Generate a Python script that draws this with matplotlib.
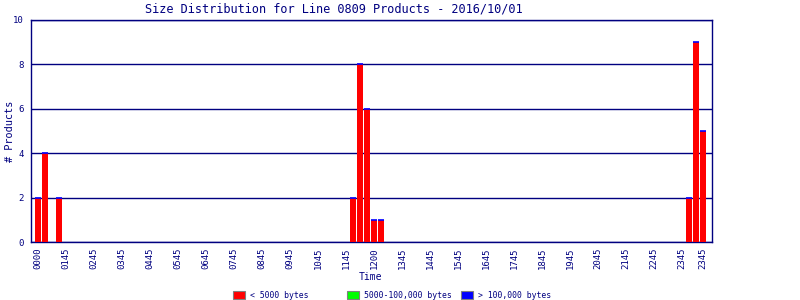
import matplotlib
matplotlib.use("Agg")
import matplotlib.pyplot as plt
from matplotlib.patches import Rectangle

NAVY = "#000080"
plt.rcParams['font.family'] = ['DejaVu Sans Mono', 'DejaVu Sans']

title = "Size Distribution for Line 0809 Products - 2016/10/01"

# 96 fifteen-minute bins, 00:00 .. 23:45
small_counts = [
    2, 4, 0, 2, 0, 0, 0, 0, 0, 0, 0, 0,
    0, 0, 0, 0, 0, 0, 0, 0, 0, 0, 0, 0,
    0, 0, 0, 0, 0, 0, 0, 0, 0, 0, 0, 0,
    0, 0, 0, 0, 0, 0, 0, 0, 0, 2, 8, 6,
    1, 1, 0, 0, 0, 0, 0, 0, 0, 0, 0, 0,
    0, 0, 0, 0, 0, 0, 0, 0, 0, 0, 0, 0,
    0, 0, 0, 0, 0, 0, 0, 0, 0, 0, 0, 0,
    0, 0, 0, 0, 0, 0, 0, 0, 0, 2, 9, 5,
]
tick_bins = [0, 4, 8, 12, 16, 20, 24, 28, 32, 36, 40, 44, 48, 52, 56, 60,
             64, 68, 72, 76, 80, 84, 88, 92, 95]
tick_labels = ["0000", "0145", "0245", "0345", "0445", "0545", "0645", "0745",
               "0845", "0945", "1045", "1145", "1200", "1345", "1445", "1545",
               "1645", "1745", "1845", "1945", "2045", "2145", "2245", "2345", "2345"]
legend_labels = ["< 5000 bytes", "5000-100,000 bytes", "> 100,000 bytes"]
legend_colors = ["#ff0000", "#00ff00", "#0000ff"]

W, H = 800, 300
fig = plt.figure(figsize=(8, 3), dpi=100)
ax = fig.add_axes([31/W, 1-242/H, (712-31)/W, (242-20)/H])

x = list(range(len(small_counts)))
ax.bar(x, small_counts, width=0.86, color="#ff0000", zorder=3, linewidth=0)
nz = [i for i in x if small_counts[i] > 0]
ax.hlines([small_counts[i] for i in nz], [i - 0.43 for i in nz], [i + 0.43 for i in nz],
          colors="#0000ff", linewidth=1.2, zorder=4)

ax.set_xlim(-1, 96.3)
ax.set_ylim(0, 10)
ax.set_yticks([0, 2, 4, 6, 8, 10])
ax.yaxis.grid(True, color=NAVY, linewidth=1.0, zorder=1)
ax.set_axisbelow(True)
ax.tick_params(axis='y', length=0, labelsize=6.5, labelcolor=NAVY, pad=5)
ax.set_xticks(tick_bins)
ax.set_xticklabels(tick_labels, rotation=90, fontsize=6.5, color=NAVY)
ax.tick_params(axis='x', length=0, pad=4)
for s in ax.spines.values():
    s.set_color(NAVY)
    s.set_linewidth(1.0)

fig.text(334/W, 1-9/H, title, fontsize=8.6, color=NAVY, ha='center', va='center')
fig.text(370/W, 1-277/H, "Time", fontsize=7, color=NAVY, ha='center', va='center')
fig.text(10/W, 1-131/H, "# Products", fontsize=7.4, color=NAVY, ha='center',
         va='center', rotation=90)

for i, (lab, col) in enumerate(zip(legend_labels, legend_colors)):
    x0 = 233 + 114 * i
    fig.patches.append(Rectangle((x0/W, 1-299/H), 12/W, 8/H, transform=fig.transFigure,
                                 facecolor=col, edgecolor="#808080", linewidth=0.8))
    fig.text((x0 + 17)/W, 1-295/H, lab, fontsize=5.9, color=NAVY, ha='left', va='center')

fig.savefig("out.png", dpi=100)
